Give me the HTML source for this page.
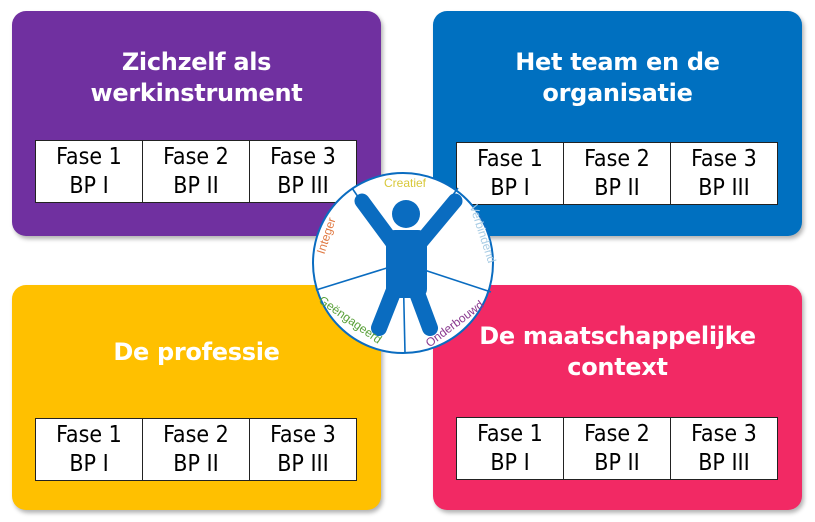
<!DOCTYPE html>
<html><head><meta charset="utf-8"><style>
body{margin:0;width:815px;height:522px;background:#fff;position:relative;overflow:hidden;font-family:"DejaVu Sans","Liberation Sans",sans-serif}
.box{position:absolute;width:369px;height:225px;border-radius:14px;box-shadow:2px 3px 4px rgba(0,0,0,0.3)}
.t{position:absolute;left:0;width:100%;text-align:center;color:#fff;font-weight:bold;font-size:24px;line-height:31px;letter-spacing:-0.3px}
table{position:absolute;border-collapse:collapse;background:#fff}
td{border:1.5px solid #222;width:106px;height:61px;text-align:center;font-family:"DejaVu Sans Condensed","DejaVu Sans",sans-serif;font-size:23px;line-height:29px;color:#000;padding:0}
</style></head><body>
<div class="box" style="left:12px;top:11px;background:#7030a0">
 <div class="t" style="top:36px">Zichzelf als<br>werkinstrument</div>
 <table style="left:23px;top:129px"><tr><td>Fase 1<br>BP I</td><td>Fase 2<br>BP II</td><td>Fase 3<br>BP III</td></tr></table>
</div>
<div class="box" style="left:433px;top:11px;background:#0070c0">
 <div class="t" style="top:36px">Het team en de<br>organisatie</div>
 <table style="left:23px;top:131px"><tr><td>Fase 1<br>BP I</td><td>Fase 2<br>BP II</td><td>Fase 3<br>BP III</td></tr></table>
</div>
<div class="box" style="left:433px;top:285px;background:#f22964">
 <div class="t" style="top:36px">De maatschappelijke<br>context</div>
 <table style="left:23px;top:132px"><tr><td>Fase 1<br>BP I</td><td>Fase 2<br>BP II</td><td>Fase 3<br>BP III</td></tr></table>
</div>
<div class="box" style="left:12px;top:285px;background:#ffc000">
 <div class="t" style="top:52px">De professie</div>
 <table style="left:23px;top:133px"><tr><td>Fase 1<br>BP I</td><td>Fase 2<br>BP II</td><td>Fase 3<br>BP III</td></tr></table>
</div>
<svg style="position:absolute;left:0;top:0" width="815" height="522">
 <circle cx="403" cy="263" r="90" fill="#fff" stroke="#0a6cc0" stroke-width="2"/>
 <g stroke="#0a6cc0" stroke-width="1.6">
  <line x1="352" y1="188" x2="403" y2="263"/>
  <line x1="458" y1="188" x2="403" y2="263"/>
  <line x1="316" y1="290" x2="403" y2="263"/>
  <line x1="491" y1="292" x2="403" y2="263"/>
  <line x1="405" y1="353" x2="403" y2="263"/>
 </g>
 <g stroke="#0a6cc0" stroke-linecap="round" fill="none">
  <line x1="362" y1="201" x2="393" y2="243" stroke-width="15"/>
  <line x1="455" y1="201" x2="420" y2="243" stroke-width="15"/>
  <line x1="396" y1="285" x2="379" y2="328" stroke-width="16"/>
  <line x1="414" y1="285" x2="430" y2="328" stroke-width="16"/>
 </g>
 <rect x="386" y="230" width="41" height="68" rx="9" fill="#0a6cc0"/>
 <circle cx="406" cy="214" r="14" fill="#0a6cc0"/>
 <g font-family="Liberation Sans, sans-serif" font-size="12">
  <text x="405" y="187" text-anchor="middle" fill="#d8c83a">Creatief</text>
  <text transform="translate(479,235) rotate(72)" text-anchor="middle" fill="#a8cce4">Verbindend</text>
  <text transform="translate(330,237) rotate(-72)" text-anchor="middle" fill="#e07a44">Integer</text>
  <text transform="translate(348,323) rotate(35)" text-anchor="middle" fill="#5aa03a">Geëngageerd</text>
  <text transform="translate(457,327) rotate(-37)" text-anchor="middle" fill="#8a3a90">Onderbouwd</text>
 </g>
</svg>
</body></html>
